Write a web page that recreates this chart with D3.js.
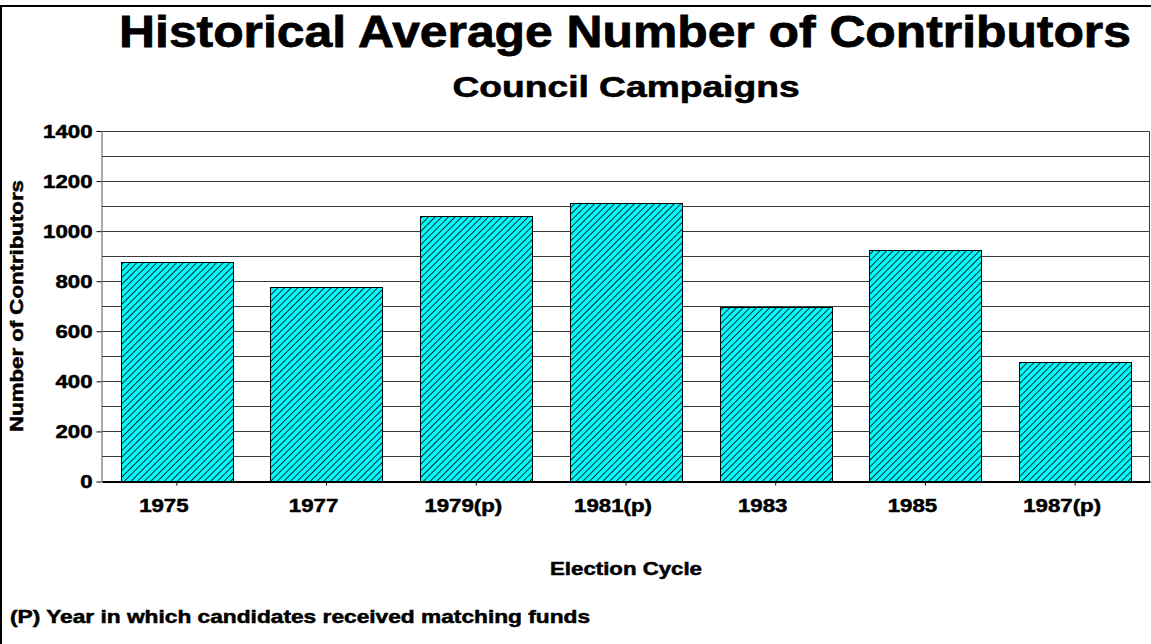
<!DOCTYPE html>
<html>
<head>
<meta charset="utf-8">
<script src="https://cdn.jsdelivr.net/npm/d3@7/dist/d3.min.js"></script>
<style>
  html, body { margin: 0; padding: 0; background: #fff; }
  svg { display: block; }
  text { font-family: "Liberation Sans", Arial, sans-serif; font-weight: bold; fill: #000; }
</style>
</head>
<body>
<script>
// Election cycles and average number of contributors per council campaign
const cycles = ["1975", "1977", "1979(p)", "1981(p)", "1983", "1985", "1987(p)"];
const contributors = [878, 777, 1061, 1112, 698, 925, 479];
const yTicks = [0, 200, 400, 600, 800, 1000, 1200, 1400];
const yGrid = [100, 200, 300, 400, 500, 600, 700, 800, 900, 1000, 1100, 1200, 1300];

const W = 1151, H = 644;
const plot = { left: 102, right: 1150, top: 131, bottom: 481.5 };
const stretch = 1.27; // wide type face look

const svg = d3.select("body").append("svg")
  .attr("width", W).attr("height", H);

// hatch pattern for bars
const defs = svg.append("defs");
defs.append("pattern")
  .attr("id", "hatch")
  .attr("patternUnits", "userSpaceOnUse")
  .attr("width", 4.7).attr("height", 10)
  .attr("patternTransform", "rotate(45)")
  .call(p => {
    p.append("rect").attr("width", 4.7).attr("height", 10).attr("fill", "#00ffff");
    p.append("line").attr("x1", 0.5).attr("x2", 0.5).attr("y1", 0).attr("y2", 10)
      .attr("stroke", "#002828").attr("stroke-width", 1);
  });

// outer frame (left and top edges)
svg.append("path")
  .attr("d", `M1,${H + 5} L1,6 L${W + 5},6`)
  .attr("fill", "none").attr("stroke", "#000").attr("stroke-width", 2);

const x = d3.scaleBand().domain(cycles)
  .range([plot.left, plot.right])
  .paddingInner(0.25).paddingOuter(0.125);
const y = d3.scaleLinear().domain([0, 1400]).range([plot.bottom, plot.top]);

// horizontal gridlines
svg.append("g").selectAll("line").data(yGrid).join("line")
  .attr("x1", plot.left).attr("x2", plot.right)
  .attr("y1", d => Math.round(y(d)) + 0.5).attr("y2", d => Math.round(y(d)) + 0.5)
  .attr("stroke", "#3a3a3a").attr("stroke-width", 1);

// plot frame: top and right
svg.append("path")
  .attr("d", `M${plot.left},${Math.round(y(1400)) + 0.5} H${plot.right - 0.5} V${plot.bottom}`)
  .attr("fill", "none").attr("stroke", "#3a3a3a").attr("stroke-width", 1);

// bars
svg.append("g").selectAll("rect").data(cycles).join("rect")
  .attr("x", d => Math.round(x(d)) + 0.5)
  .attr("y", (d, i) => Math.round(y(contributors[i])) + 0.5)
  .attr("width", Math.round(x.bandwidth()))
  .attr("height", (d, i) => Math.round(y(0)) - Math.round(y(contributors[i])))
  .attr("fill", "url(#hatch)")
  .attr("stroke", "#000").attr("stroke-width", 1);

// y axis
const yAxis = d3.axisLeft(y).tickValues(yTicks).tickSize(5).tickSizeOuter(0).tickFormat(d3.format("d"));
const gy = svg.append("g").attr("transform", `translate(${plot.left - 0.5},0)`).call(yAxis);
gy.select(".domain").attr("stroke", "#555");
gy.selectAll(".tick line").attr("stroke", "#000");
gy.selectAll(".tick text").remove();
gy.selectAll(".tick").append("text")
  .attr("text-anchor", "end")
  .attr("dy", "0.35em")
  .attr("font-size", 17.5)
  .attr("stroke", "#000").attr("stroke-width", 0.5)
  .attr("transform", `translate(-9,0) scale(${stretch},1)`)
  .text(d => d);

// x axis
const xAxis = d3.axisBottom(x).tickSize(4).tickSizeOuter(0);
const gx = svg.append("g").attr("transform", `translate(0,${plot.bottom})`).call(xAxis);
gx.select(".domain").attr("stroke", "#000").attr("stroke-width", 2);
gx.selectAll(".tick line").attr("stroke", "#000");
gx.selectAll(".tick text").remove();
gx.selectAll(".tick").append("text")
  .attr("text-anchor", "middle")
  .attr("font-size", 17.5)
  .attr("stroke", "#000").attr("stroke-width", 0.5)
  .attr("transform", `translate(-13,30) scale(${stretch},1)`)
  .text(d => d);

// titles
function label(txt, tx, ty, size, anchor, rot, sw, sx) {
  svg.append("text")
    .attr("text-anchor", anchor)
    .attr("font-size", size)
    .attr("stroke", "#000").attr("stroke-width", sw || 0.5)
    .attr("transform", `translate(${tx},${ty})${rot ? ` rotate(${rot})` : ""} scale(${sx || stretch},1)`)
    .text(txt);
}
label("Historical Average Number of Contributors", 625, 47, 45, "middle", 0, 0.8, 1.107);
label("Council Campaigns", 626, 97, 29.3, "middle", 0, 0.6);
label("Number of Contributors", 23, 306, 17.5, "middle", -90);
label("Election Cycle", 626, 575, 17.5, "middle");
label("(P) Year in which candidates received matching funds", 10, 623, 17.9, "start");
</script>
</body>
</html>
